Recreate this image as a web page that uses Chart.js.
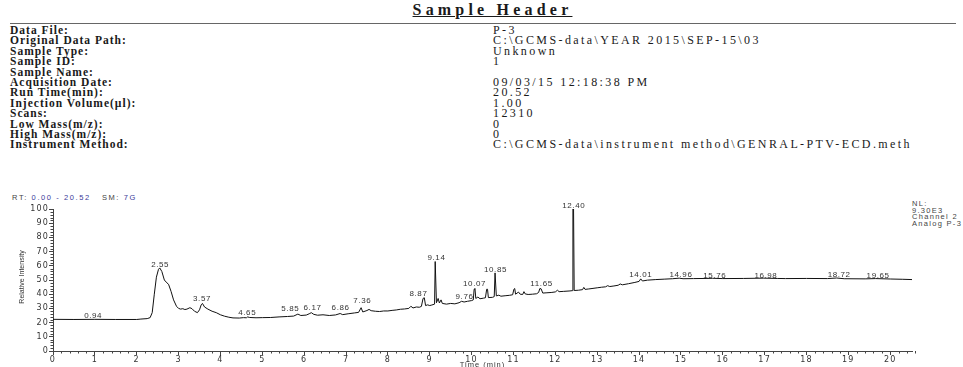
<!DOCTYPE html>
<html>
<head>
<meta charset="utf-8">
<script src="https://cdn.jsdelivr.net/npm/chart.js@4.4.1/dist/chart.umd.min.js"></script>
<style>
  html, body { margin:0; padding:0; background:#fff; width:963px; height:367px; overflow:hidden; }
  body { position:relative; font-family:"Liberation Serif", "DejaVu Serif", serif; color:#1a1a1a; }
  #title { position:absolute; left:22px; width:941px; top:0px; text-align:center; font-weight:bold; font-size:16px; letter-spacing:4.2px; text-decoration:underline; line-height:19px; }
  #rule { position:absolute; left:10px; width:946px; top:23px; height:0; border-top:1.5px solid #666; }
  .lab { position:absolute; left:10px; font-weight:bold; font-size:11.5px; letter-spacing:1px; line-height:11px; white-space:nowrap; }
  .val { position:absolute; left:493px; font-size:12px; letter-spacing:2.4px; line-height:11px; white-space:nowrap; }
  #rt { position:absolute; left:12px; top:193px; font-family:"Liberation Sans", Arial, sans-serif; font-size:7.5px; letter-spacing:1.6px; color:#444; white-space:nowrap; }
  #rt .b { color:#3b3b99; }
  #nl { position:absolute; left:912px; top:201px; font-family:"Liberation Sans", Arial, sans-serif; font-size:7.5px; line-height:6.7px; letter-spacing:1.3px; color:#444; white-space:nowrap; }
  #c { position:absolute; left:0; top:190px; }
</style>
</head>
<body>
<div id="title">Sample Header</div>
<div id="rule"></div>
<div id="hdr"></div>
<div id="rt">RT: <span class="b">0.00 - 20.52</span>&nbsp;&nbsp; SM: <span class="b">7G</span></div>
<div id="nl">NL:<br>9.30E3<br>Channel 2<br>Analog P-3</div>
<canvas id="c" width="963" height="190" style="width:963px;height:190px"></canvas>
<script>
// ---------- header table ----------
const headerLabels = ["Data File:", "Original Data Path:", "Sample Type:", "Sample ID:", "Sample Name:", "Acquisition Date:", "Run Time(min):", "Injection Volume(\u00b5l):", "Scans:", "Low Mass(m/z):", "High Mass(m/z):", "Instrument Method:"];
const headerValues = ["P-3", "C:\\GCMS-data\\YEAR 2015\\SEP-15\\03", "Unknown", "1", "", "09/03/15 12:18:38 PM", "20.52", "1.00", "12310", "0", "0", "C:\\GCMS-data\\instrument method\\GENRAL-PTV-ECD.meth"];

// ---------- chromatogram data ----------
const times = [
  0.00, 0.50, 1.00, 1.50, 2.00, 2.10, 2.25, 2.32, 2.37, 2.42, 2.47, 2.52, 2.55, 2.60, 2.66, 2.72, 2.76, 2.82, 2.88, 2.95,
  3.00, 3.05, 3.10, 3.15, 3.20, 3.27, 3.32, 3.38, 3.45, 3.50, 3.54, 3.57, 3.62, 3.70, 3.80, 3.90, 4.00, 4.10, 4.20, 4.30,
  4.45, 4.55, 4.62, 4.65, 4.70, 4.85, 5.00, 5.20, 5.40, 5.60, 5.75, 5.85, 5.92, 6.05, 6.12, 6.17, 6.23, 6.32, 6.45, 6.60,
  6.75, 6.86, 6.92, 7.05, 7.20, 7.30, 7.36, 7.40, 7.50, 7.55, 7.60, 7.70, 7.80, 7.90, 8.00, 8.10, 8.20, 8.30, 8.40, 8.50,
  8.55, 8.60, 8.68, 8.75, 8.80, 8.84, 8.87, 8.90, 8.95, 9.00, 9.05, 9.115, 9.13, 9.145, 9.16, 9.20, 9.23, 9.27, 9.30, 9.40,
  9.50, 9.60, 9.70, 9.76, 9.82, 9.90, 10.00, 10.04, 10.06, 10.08, 10.10, 10.15, 10.20, 10.28, 10.33, 10.36, 10.38, 10.40, 10.50, 10.54,
  10.56, 10.575, 10.59, 10.65, 10.70, 10.80, 10.90, 10.98, 11.01, 11.03, 11.05, 11.12, 11.16, 11.22, 11.25, 11.28, 11.35, 11.45, 11.55, 11.60,
  11.63, 11.66, 11.70, 11.80, 11.90, 12.00, 12.05, 12.09, 12.20, 12.35, 12.405, 12.42, 12.435, 12.45, 12.55, 12.65, 12.68, 12.71, 12.80, 12.90,
  13.00, 13.10, 13.20, 13.25, 13.30, 13.40, 13.50, 13.55, 13.60, 13.75, 13.90, 14.00, 14.04, 14.08, 14.20, 14.40, 14.60, 14.80, 14.96, 15.05,
  15.30, 15.60, 15.76, 16.00, 16.50, 16.98, 17.30, 17.50, 18.00, 18.50, 18.72, 18.90, 19.40, 19.65, 20.00, 20.30, 20.52
];
const intensity = [
  22.3, 22.2, 22.3, 22.2, 22.2, 22.5, 22.8, 23.5, 27.0, 40.0, 52.0, 57.5, 58.5, 56.0, 50.0, 48.0, 47.0, 42.0, 36.0, 31.5,
  30.0, 29.5, 29.8, 29.2, 29.5, 30.5, 29.8, 28.0, 27.0, 29.0, 32.5, 33.5, 31.0, 29.5, 28.0, 27.0, 25.5, 24.5, 23.8, 23.3,
  23.2, 23.5, 23.4, 24.0, 23.6, 23.4, 23.5, 23.6, 24.0, 24.3, 24.6, 26.0, 25.0, 25.3, 26.2, 27.0, 25.8, 25.2, 25.5, 25.0,
  25.4, 26.4, 25.6, 26.2, 26.8, 27.2, 30.5, 27.5, 28.5, 29.3, 28.4, 28.0, 27.8, 28.2, 28.2, 28.6, 28.9, 29.4, 29.6, 30.0,
  31.5, 30.3, 31.0, 30.8, 31.4, 37.0, 37.5, 32.0, 32.5, 32.0, 32.4, 33.0, 63.0, 63.0, 34.0, 37.0, 33.8, 36.0, 33.5, 33.0,
  33.5, 33.2, 34.0, 35.0, 34.5, 35.0, 35.5, 36.0, 43.5, 44.0, 37.0, 38.0, 36.8, 37.2, 37.5, 43.5, 43.5, 37.6, 37.8, 38.3,
  55.0, 55.0, 38.8, 39.3, 38.6, 38.9, 39.2, 39.6, 43.5, 44.0, 40.0, 41.5, 40.0, 39.8, 41.8, 40.2, 39.8, 40.0, 40.3, 41.2,
  44.0, 43.8, 40.8, 41.0, 41.2, 41.6, 42.8, 41.8, 42.0, 42.3, 42.5, 100.0, 100.0, 42.6, 42.8, 43.2, 44.8, 43.4, 43.7, 44.1,
  44.5, 44.9, 45.2, 46.0, 45.4, 45.8, 46.3, 47.2, 46.6, 47.4, 48.3, 49.0, 50.8, 49.3, 49.9, 50.3, 50.6, 50.9, 51.3, 50.9,
  51.0, 51.1, 51.2, 51.0, 51.1, 51.3, 51.1, 51.0, 51.1, 51.0, 51.4, 50.9, 50.8, 51.0, 50.7, 50.5, 50.3
];

// ---------- peak annotations (label text, time and intensity where it sits) ----------
const peakLabels = ["0.94", "2.55", "3.57", "4.65", "5.85", "6.17", "6.86", "7.36", "8.87", "9.14", "9.76", "10.07", "10.85", "11.65", "12.40", "14.01", "14.96", "15.76", "16.98", "18.72", "19.65"];
const peakLabelTimes = [0.96, 2.56, 3.56, 4.64, 5.67, 6.20, 6.87, 7.39, 8.73, 9.16, 9.83, 10.07, 10.57, 11.67, 12.44, 14.04, 15.00, 15.81, 17.03, 18.78, 19.71];
const peakLabelLevels = [24.6, 60.6, 36.6, 26.8, 29.6, 30.3, 30.3, 35.2, 40.1, 65.5, 38.0, 47.2, 57.0, 47.2, 102.0, 53.5, 53.5, 52.8, 52.8, 53.5, 52.8];

// ---------- axes ----------
const xMin = 0, xMax = 20.52, xMinorStep = 0.2;
const xMajorTicks = [0, 1, 2, 3, 4, 5, 6, 7, 8, 9, 10, 11, 12, 13, 14, 15, 16, 17, 18, 19, 20];
const yMin = 0, yMax = 100, yMajorStep = 10, yMinorStep = 2;
const xTitle = "Time (min)";
const yTitle = "Relative Intensity";

// build header
const hdr = document.getElementById('hdr');
headerLabels.forEach((l, i) => {
  const top = 25 + i * 10.4;
  const a = document.createElement('div'); a.className = 'lab'; a.style.top = top + 'px'; a.textContent = l; hdr.appendChild(a);
  const b = document.createElement('div'); b.className = 'val'; b.style.top = top + 'px'; b.textContent = headerValues[i]; hdr.appendChild(b);
});

const axisColor = '#444';
const textColor = '#333';
const sans = '"Liberation Sans", Arial, sans-serif';
const wide = '"DejaVu Sans", "Liberation Sans", sans-serif';

const extras = {
  id: 'extras',
  beforeDraw(chart) { chart.ctx.letterSpacing = '1.2px'; },
  afterDraw(chart) {
    const ctx = chart.ctx, xs = chart.scales.x, ys = chart.scales.y, area = chart.chartArea;
    ctx.save();
    ctx.strokeStyle = axisColor; ctx.lineWidth = 1;
    ctx.beginPath();
    const nx = Math.round((xMax - xMin) / xMinorStep);
    for (let k = 1; k <= nx; k++) {
      const v = xMin + k * xMinorStep;
      if (Math.abs(v - Math.round(v)) < 1e-6) continue;
      const px = Math.round(xs.getPixelForValue(v)) + 0.5;
      ctx.moveTo(px, area.bottom); ctx.lineTo(px, area.bottom + 2.5);
    }
    const ny = Math.round((yMax - yMin) / yMinorStep);
    for (let k = 1; k < ny; k++) {
      const v = yMin + k * yMinorStep;
      if (Math.abs(v / yMajorStep - Math.round(v / yMajorStep)) < 1e-6) continue;
      const py = Math.round(ys.getPixelForValue(v)) + 0.5;
      ctx.moveTo(area.left - 2.5, py); ctx.lineTo(area.left, py);
    }
    ctx.stroke();

    ctx.fillStyle = textColor;
    ctx.letterSpacing = '0.6px';
    ctx.font = '8px ' + sans;
    ctx.textAlign = 'center'; ctx.textBaseline = 'middle';
    peakLabels.forEach((t, i) => {
      ctx.fillText(t, xs.getPixelForValue(peakLabelTimes[i]), ys.getPixelForValue(peakLabelLevels[i]));
    });

    ctx.letterSpacing = '1px';
    ctx.font = '7.5px ' + sans;
    ctx.fillText(xTitle, (area.left + area.right) / 2, 175);
    ctx.translate(22, (area.top + area.bottom) / 2 - 3);
    ctx.rotate(-Math.PI / 2);
    ctx.letterSpacing = '0px';
    ctx.font = '7px ' + sans;
    ctx.fillText(yTitle, 0, 0);
    ctx.restore();
  }
};

new Chart(document.getElementById('c'), {
  type: 'line',
  data: {
    datasets: [{
      data: times.map((t, i) => ({ x: t, y: intensity[i] })),
      borderColor: '#111', borderWidth: 1, pointRadius: 0, tension: 0, fill: false
    }]
  },
  options: {
    responsive: false, animation: false, devicePixelRatio: 1,
    layout: { padding: { top: 19, right: 51, left: 0, bottom: 0 } },
    plugins: { legend: { display: false }, tooltip: { enabled: false }, title: { display: false } },
    scales: {
      x: {
        type: 'linear', min: xMin, max: xMax,
        border: { display: true, color: axisColor, width: 1 },
        grid: { drawOnChartArea: false, drawTicks: true, tickLength: 4, color: axisColor },
        ticks: { autoSkip: false, maxRotation: 0, padding: 0, color: textColor,
                 font: { size: 8, family: wide } },
        afterBuildTicks: s => { s.ticks = xMajorTicks.map(v => ({ value: v })); },
        afterFit: s => { s.height = 29; }
      },
      y: {
        min: yMin, max: yMax,
        border: { display: true, color: axisColor, width: 1 },
        grid: { drawOnChartArea: false, drawTicks: true, tickLength: 4, color: axisColor },
        ticks: { stepSize: yMajorStep, padding: 0, color: textColor, font: { size: 8, family: wide } },
        afterFit: s => { s.width = 53; }
      }
    }
  },
  plugins: [extras]
});
</script>
</body>
</html>
